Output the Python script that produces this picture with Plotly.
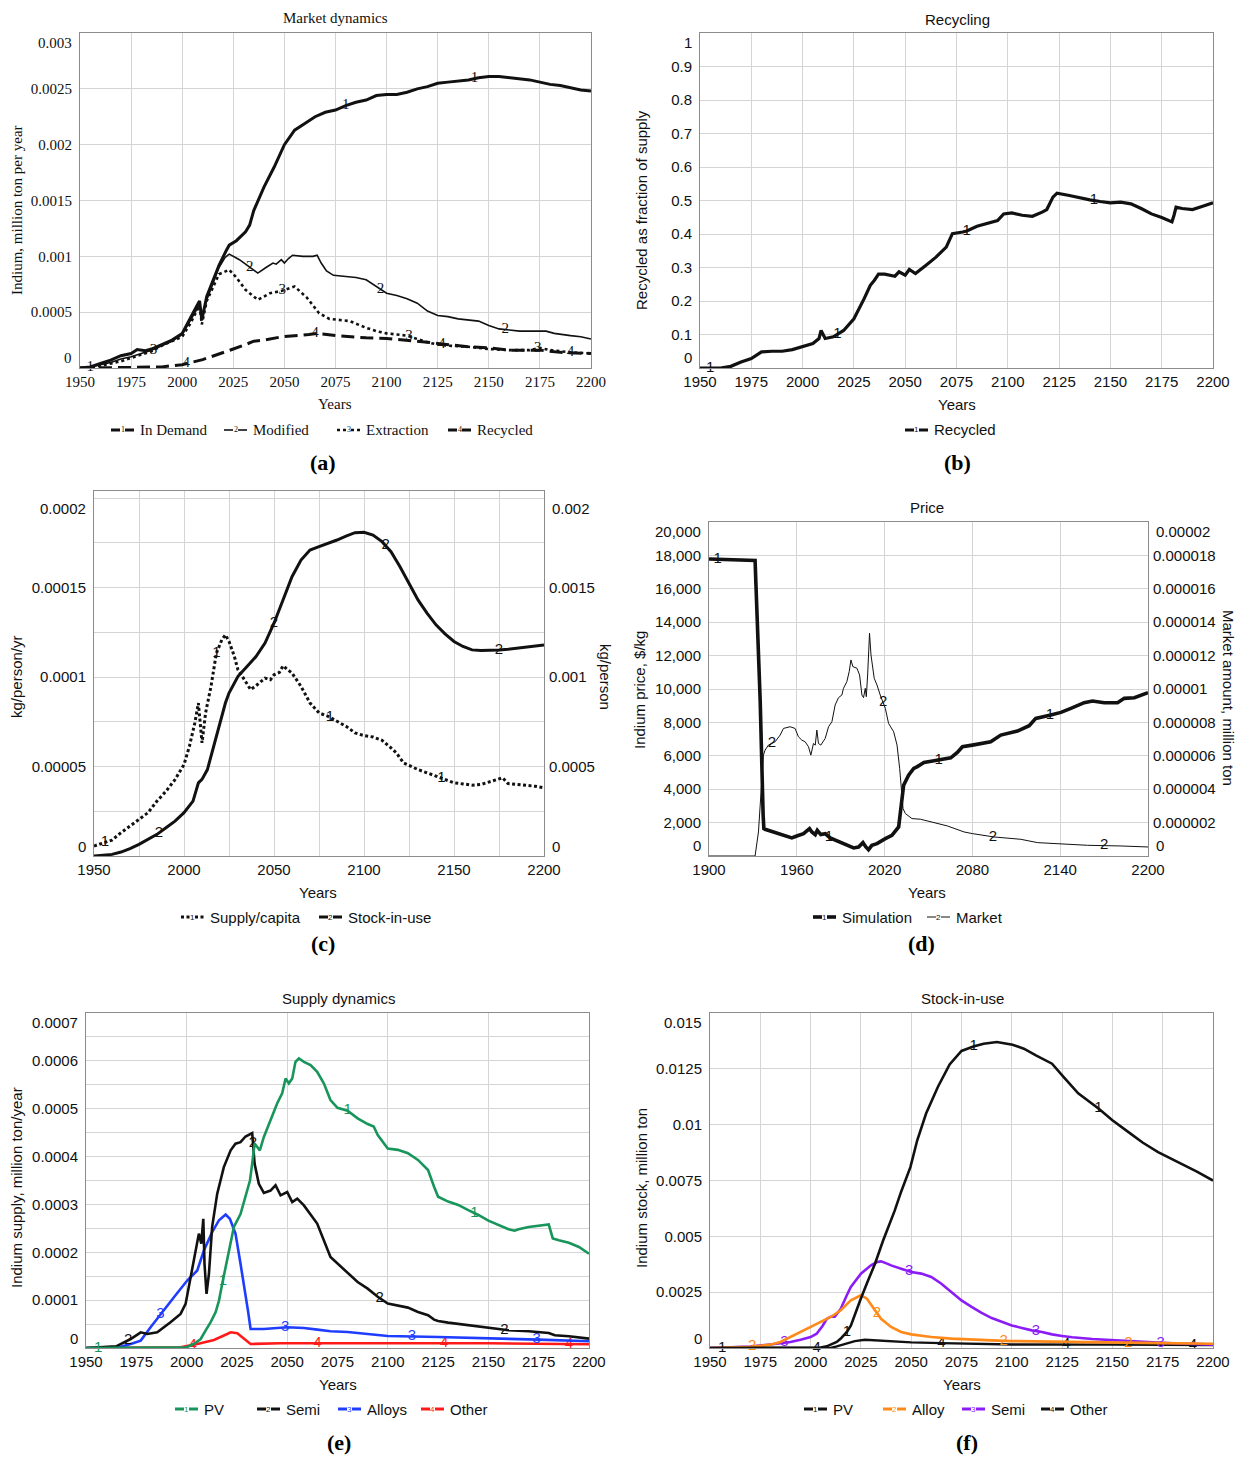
import numpy as np
import plotly.graph_objects as go

# ---------------------------------------------------------------
# (a) Market dynamics, Indium flows (million ton per year)
# ---------------------------------------------------------------
A_DEMAND_YR = [1950, 1955, 1960, 1965, 1970, 1975, 1978, 1982, 1985, 1990,
               1995, 2000, 2004, 2007, 2008.5, 2009.6, 2012, 2015, 2018, 2021.5,
               2023, 2026.5, 2031, 2033, 2035, 2040, 2043, 2045, 2050, 2055,
               2060, 2065, 2070, 2075, 2080, 2085, 2090, 2095, 2100, 2105,
               2110, 2115, 2120, 2125, 2130, 2135, 2140, 2145, 2150, 2155,
               2160, 2165, 2170, 2175, 2180, 2185, 2190, 2195, 2200]
A_DEMAND = [0.0, 0.00001, 0.00004, 0.00007, 0.00011, 0.00013, 0.000165, 0.000155, 0.00017, 0.00021,
            0.00025, 0.00031, 0.00044, 0.00055, 0.0006, 0.00043, 0.00064, 0.00078, 0.00092, 0.00105,
            0.0011, 0.00114, 0.00122, 0.00128, 0.00141, 0.00162, 0.00173, 0.0018, 0.002, 0.00213,
            0.00219, 0.00225, 0.00229, 0.00231, 0.00235, 0.00238, 0.0024, 0.00244, 0.00245, 0.00245,
            0.00247, 0.0025, 0.00252, 0.00255, 0.00256, 0.00257, 0.00258, 0.0026, 0.00261, 0.00261,
            0.0026, 0.00259, 0.00258, 0.00256, 0.00254, 0.00253, 0.00251, 0.00249, 0.00248]

A_MODIFIED_YR = [1950, 1955, 1960, 1965, 1970, 1975, 1980, 1985, 1990, 1995,
                 2000, 2004, 2007, 2008.5, 2009.6, 2012, 2015, 2018, 2021, 2023,
                 2028, 2033, 2037, 2041, 2044.4, 2046, 2048.5, 2050, 2052, 2054,
                 2059, 2064, 2066, 2068, 2070.6, 2074, 2080, 2085, 2090, 2095,
                 2100, 2105, 2110, 2115, 2120, 2125, 2130, 2135, 2140, 2145,
                 2150, 2155, 2160, 2165, 2170, 2178, 2182, 2185, 2190, 2195,
                 2200]
A_MODIFIED = [0.0, 0.00001, 0.00003, 0.00005, 0.00008, 0.0001, 0.00013, 0.00016, 0.0002, 0.00024,
              0.0003, 0.00042, 0.00052, 0.00057, 0.00045, 0.00061, 0.00075, 0.0009, 0.00099, 0.00102,
              0.00097, 0.0009, 0.00085, 0.0009, 0.00094, 0.00093, 0.00097, 0.00094, 0.00098, 0.00101,
              0.001, 0.001, 0.00101, 0.00094, 0.00087, 0.00083, 0.00082, 0.00081, 0.00079, 0.00073,
              0.00067, 0.00065, 0.00062, 0.00058, 0.00051, 0.00047, 0.00046, 0.00044, 0.00043, 0.00042,
              0.00038, 0.00035, 0.00034, 0.00033, 0.00033, 0.00033, 0.00031, 0.0003, 0.00029, 0.00028,
              0.00026]

A_EXTRACTION_YR = [1950, 1955, 1960, 1965, 1970, 1975, 1980, 1985, 1990, 1995,
                   2000, 2004, 2007, 2008.5, 2009.6, 2012, 2015, 2018, 2023, 2026.5,
                   2031, 2037, 2043, 2048.5, 2055, 2061, 2067, 2072, 2082, 2090,
                   2095, 2100, 2105, 2110, 2115, 2120, 2125, 2130, 2140, 2150,
                   2160, 2170, 2175, 2180, 2190, 2200]
A_EXTRACTION = [0.0, 0.000005, 0.00002, 0.00004, 0.00006, 0.00009, 0.00012, 0.00015, 0.0002, 0.00024,
                0.00028, 0.0004, 0.0005, 0.00056, 0.00039, 0.0006, 0.00072, 0.00084, 0.00088, 0.00081,
                0.0007, 0.00061, 0.00067, 0.00069, 0.00073, 0.00063, 0.00049, 0.00044, 0.00042, 0.00036,
                0.00033, 0.00031, 0.0003, 0.00029, 0.00026, 0.00023, 0.00021, 0.0002, 0.00019, 0.00017,
                0.00016, 0.00016, 0.00018, 0.00016, 0.00014, 0.00013]

A_RECYCLED_YR = [1950, 1960, 1975, 1990, 2000, 2010, 2020, 2025, 2031, 2035,
                 2040, 2049, 2062, 2066, 2075, 2090, 2100, 2110, 2120, 2125,
                 2140, 2150, 2160, 2175, 2185, 2200]
A_RECYCLED = [0.0, 0.0, 0.000005, 0.00001, 0.00003, 0.000075, 0.000135, 0.00017, 0.00021, 0.00024,
              0.00025, 0.00028, 0.0003, 0.00031, 0.00029, 0.00027, 0.000265, 0.00025, 0.00023, 0.00022,
              0.00019, 0.00018, 0.00016, 0.00016, 0.00014, 0.00013]

# ---------------------------------------------------------------
# (b) Recycled as fraction of supply
# ---------------------------------------------------------------
B_RECYCLED_YR = [1950, 1960, 1965, 1970, 1975, 1978, 1980, 1985, 1990, 1995,
                 2000, 2005, 2008, 2009, 2011, 2015, 2020, 2025, 2030, 2033,
                 2035, 2037, 2040, 2045, 2047, 2050, 2052, 2055, 2060, 2065,
                 2070, 2073, 2078, 2080, 2085, 2090, 2095, 2098, 2102, 2107,
                 2112, 2117, 2119, 2122, 2124, 2130, 2135, 2140, 2145, 2150,
                 2155, 2160, 2165, 2170, 2175, 2180, 2181, 2182, 2185, 2190,
                 2195, 2200]
B_RECYCLED = [0.0, 0.0, 0.005, 0.018, 0.028, 0.04, 0.048, 0.05, 0.05, 0.055,
              0.063, 0.073, 0.088, 0.112, 0.088, 0.093, 0.112, 0.147, 0.207, 0.247,
              0.262, 0.28, 0.28, 0.274, 0.287, 0.277, 0.294, 0.282, 0.306, 0.331,
              0.361, 0.401, 0.406, 0.409, 0.423, 0.431, 0.44, 0.46, 0.463, 0.456,
              0.453, 0.466, 0.473, 0.51, 0.522, 0.515, 0.508, 0.502, 0.497, 0.493,
              0.495, 0.49, 0.476, 0.46, 0.449, 0.436, 0.456, 0.48, 0.476, 0.473,
              0.483, 0.493]

# ---------------------------------------------------------------
# (c) Per-capita supply (kg/person/yr) and stock-in-use (kg/person)
# ---------------------------------------------------------------
C_SUPPLY_YR = [1950, 1955, 1960, 1965, 1970, 1975, 1980, 1985, 1990, 1995,
               2000, 2003, 2006, 2008, 2010, 2012, 2015, 2018, 2021, 2023,
               2025, 2028, 2030, 2033, 2037, 2040, 2045, 2048, 2050, 2053,
               2055, 2060, 2065, 2070, 2075, 2080, 2085, 2090, 2095, 2100,
               2105, 2110, 2115, 2118, 2122, 2125, 2130, 2135, 2140, 2145,
               2150, 2155, 2160, 2165, 2170, 2175, 2177, 2180, 2185, 2190,
               2195, 2200]
C_SUPPLY = [0.0000056, 0.0000074, 0.0000089, 0.000013, 0.0000167, 0.0000204, 0.0000242, 0.0000307, 0.0000362, 0.0000427,
            0.0000511, 0.0000613, 0.0000743, 0.0000855, 0.0000632, 0.00008, 0.0000948, 0.0001134, 0.0001208, 0.0001236,
            0.00012, 0.0001115, 0.000104, 0.0000994, 0.000093, 0.0000952, 0.0000994, 0.0000985, 0.0001013, 0.0001026,
            0.0001063, 0.0001022, 0.0000948, 0.0000855, 0.00008, 0.0000781, 0.0000753, 0.0000725, 0.0000688, 0.0000673,
            0.0000665, 0.0000647, 0.0000604, 0.0000576, 0.000052, 0.0000506, 0.0000483, 0.0000465, 0.0000446, 0.0000424,
            0.0000409, 0.0000403, 0.0000396, 0.00004, 0.0000414, 0.0000428, 0.0000437, 0.0000405, 0.00004, 0.0000396,
            0.000039, 0.0000381]

C_STOCK_YR = [1950, 1955, 1960, 1965, 1970, 1975, 1980, 1985, 1990, 1995,
              2000, 2005, 2008, 2010, 2013, 2015, 2018, 2020, 2023, 2025,
              2028, 2030, 2035, 2040, 2045, 2050, 2055, 2060, 2065, 2070,
              2075, 2080, 2085, 2090, 2095, 2100, 2105, 2110, 2115, 2120,
              2125, 2130, 2135, 2140, 2145, 2150, 2155, 2160, 2165, 2170,
              2175, 2180, 2185, 2190, 2195, 2200]
C_STOCK = [0.0, 0.000004, 0.000009, 0.000022, 0.000041, 0.000065, 0.000093, 0.000121, 0.000158, 0.000195,
           0.000242, 0.000307, 0.000409, 0.000428, 0.000483, 0.000558, 0.000669, 0.000753, 0.000855, 0.000911,
           0.00097, 0.001004, 0.001059, 0.001115, 0.00119, 0.001301, 0.001431, 0.001561, 0.001654, 0.00171,
           0.001729, 0.001747, 0.001766, 0.001788, 0.001807, 0.001809, 0.001794, 0.001757, 0.001701, 0.001617,
           0.001524, 0.001431, 0.001357, 0.001292, 0.001242, 0.001199, 0.001171, 0.001152, 0.001149, 0.001149,
           0.001152, 0.001156, 0.001162, 0.001165, 0.001171, 0.00118]

# ---------------------------------------------------------------
# (d) Price: simulated price ($/kg) and market amount (1e-6 million ton)
# ---------------------------------------------------------------
D_SIM_YR = [1900, 1920, 1930, 1931.5, 1932, 1935, 1937, 1937.5, 1938.3, 1944,
            1949.7, 1956.6, 1960, 1964.6, 1968.7, 1970.3, 1972.6, 1974, 1976.4, 1979.4,
            1982.8, 1989.7, 1994.2, 1998.8, 2002.2, 2005.2, 2007.2, 2009, 2011.3, 2014.8,
            2020.5, 2025, 2029.6, 2031.9, 2033, 2036.4, 2039.9, 2042.1, 2044.4, 2046.9,
            2053.8, 2065.2, 2069.7, 2073.2, 2080, 2092.5, 2099.4, 2110.8, 2118.8, 2123.3,
            2133.6, 2140.5, 2147.3, 2156.4, 2162.1, 2170.1, 2179.2, 2183.8, 2190.7, 2195.2,
            2200]
D_SIM = [17780, 17760, 17740, 17700, 16440, 9240, 2440, 1640, 1600, 1440,
         1240, 1080, 1200, 1340, 1640, 1440, 1280, 1540, 1280, 1340,
         1080, 800, 640, 480, 540, 800, 540, 380, 640, 740,
         1040, 1240, 1740, 3240, 4240, 4840, 5240, 5340, 5480, 5600,
         5700, 5880, 6200, 6540, 6640, 6840, 7240, 7480, 7800, 8240,
         8440, 8600, 8840, 9180, 9280, 9180, 9180, 9440, 9480, 9640,
         9780]

D_MARKET_YR = [1900, 1931.5, 1933.8, 1935.4, 1937.2, 1938.3, 1940.6, 1945.2, 1948.6, 1950.9,
               1955.4, 1958.8, 1961.1, 1963.4, 1965.7, 1968, 1969.6, 1971.4, 1972.6, 1973.7,
               1974.8, 1976.4, 1979.4, 1981.7, 1984, 1986.2, 1988.5, 1990.8, 1991.9, 1994.2,
               1995.8, 1997, 1998.3, 2001.1, 2002.9, 2004.5, 2005.6, 2006.8, 2007.5, 2008.4,
               2009.7, 2010.7, 2012, 2012.9, 2014.8, 2017, 2020.5, 2022.7, 2026.2, 2028.5,
               2030.3, 2031.4, 2032.6, 2034.2, 2038.7, 2044.6, 2053.8, 2062.9, 2074.3, 2080,
               2094.8, 2113.1, 2124.5, 2140, 2158.7, 2181.5, 2200]
D_MARKET_E6 = [0, 0, 1.44, 3.44, 6.04, 6.34, 6.64, 6.84, 7.24, 7.64,
               7.74, 7.64, 7.14, 6.94, 6.84, 6.54, 6.04, 6.74, 6.64, 7.54,
               6.74, 6.64, 7.04, 7.74, 8.04, 9.04, 9.48, 9.64, 10.04, 10.44,
               11.04, 11.74, 11.34, 11.24, 10.84, 9.64, 9.48, 10.04, 9.54, 10.84,
               13.34, 12.04, 11.14, 10.64, 10.24, 9.64, 8.84, 7.94, 7.44, 6.64,
               5.24, 4.04, 2.84, 2.54, 2.24, 2.2, 2.0, 1.8, 1.44, 1.34,
               1.14, 1.0, 0.8, 0.72, 0.64, 0.6, 0.54]

# ---------------------------------------------------------------
# (e) Supply dynamics by application (million ton/year)
# ---------------------------------------------------------------
E_PV_YR = [1950, 1995, 2000, 2003.6, 2007, 2009.4, 2011.9, 2014.4, 2016.1, 2017.7,
           2019.4, 2021.9, 2023.5, 2026.8, 2029.3, 2031.5, 2032.6, 2033.8, 2035.1, 2036.4,
           2038.4, 2041.7, 2045, 2047.5, 2049.2, 2050.8, 2052.5, 2054.1, 2055.8, 2058.3,
           2061.6, 2064.9, 2068.2, 2071.5, 2075, 2080, 2085, 2090, 2093, 2095,
           2098, 2100, 2105, 2110, 2115, 2120, 2123, 2125, 2130, 2135,
           2140, 2145, 2150, 2155, 2160, 2163, 2165, 2170, 2175, 2180,
           2182, 2185, 2190, 2195, 2200]
E_PV = [0.0, 0.0, 0.0000015, 0.0000084, 0.0000188, 0.0000363, 0.0000537, 0.0000747, 0.0000991, 0.000134,
        0.000169, 0.000225, 0.000253, 0.00028, 0.000319, 0.00035, 0.000385, 0.000427, 0.00042, 0.000413,
        0.000441, 0.000476, 0.000511, 0.000532, 0.000563, 0.000553, 0.000563, 0.000598, 0.000605, 0.000598,
        0.000591, 0.000577, 0.000553, 0.000518, 0.000502, 0.000496, 0.00048, 0.000468, 0.000463, 0.000445,
        0.000428, 0.000417, 0.000414, 0.000407, 0.000393, 0.000372, 0.000337, 0.000316, 0.000306, 0.000299,
        0.000288, 0.000278, 0.000266, 0.000257, 0.000248, 0.000245, 0.000248, 0.000253, 0.000255, 0.000258,
        0.000229, 0.000225, 0.00022, 0.000211, 0.000197]

E_SEMI_YR = [1950, 1965, 1972.2, 1977.2, 1980.5, 1985.4, 1992, 1997, 1999.5, 2002,
             2004.5, 2006.1, 2007.3, 2008.3, 2008.9, 2009.9, 2011.1, 2012.7, 2015.2, 2018.5,
             2021.9, 2024.3, 2026.8, 2029.3, 2032.6, 2033.8, 2035.9, 2038.4, 2041.7, 2044.2,
             2046.7, 2050, 2052.5, 2055, 2058.3, 2064.9, 2071.5, 2075, 2080, 2085,
             2090, 2095, 2100, 2105, 2110, 2115, 2120, 2123, 2125, 2130,
             2140, 2150, 2160, 2170, 2180, 2183, 2190, 2200]
E_SEMI = [0.0, 0.0000035, 0.0000188, 0.0000328, 0.0000293, 0.0000328, 0.0000537, 0.0000712, 0.0000921, 0.000148,
          0.000204, 0.000239, 0.000218, 0.00027, 0.000176, 0.000113, 0.000155, 0.000253, 0.000322, 0.000378,
          0.000413, 0.000427, 0.00043, 0.000442, 0.000449, 0.000385, 0.000343, 0.000324, 0.000329, 0.00034,
          0.000319, 0.000326, 0.000305, 0.000312, 0.000298, 0.00026, 0.00019, 0.000177, 0.000157, 0.000138,
          0.000124, 0.000107, 0.0000928, 0.0000893, 0.0000844, 0.0000754, 0.0000684, 0.0000593, 0.0000565, 0.000053,
          0.0000475, 0.0000419, 0.000037, 0.0000349, 0.0000314, 0.0000265, 0.0000244, 0.0000195]

E_ALLOYS_YR = [1950, 1965, 1972.2, 1977.2, 1982.1, 1987.1, 1993.7, 2000.3, 2005.3, 2008.6,
               2012.7, 2016.1, 2019.4, 2021.5, 2024.3, 2026.8, 2029.3, 2030.5, 2031.8, 2038.4,
               2050, 2058.3, 2065, 2071.5, 2080, 2090, 2100, 2125, 2150, 2175,
               2200]
E_ALLOYS = [0.0, 0.0, 0.0000084, 0.0000154, 0.0000433, 0.0000712, 0.000106, 0.000141, 0.000162, 0.000204,
            0.000242, 0.000267, 0.000279, 0.00027, 0.000239, 0.000176, 0.000113, 0.0000782, 0.0000398, 0.0000398,
            0.0000433, 0.0000419, 0.0000384, 0.0000349, 0.0000335, 0.0000286, 0.0000251, 0.000023, 0.0000209, 0.0000174,
            0.000014]

E_OTHER_YR = [1950, 1990, 1997, 2005.3, 2013.6, 2020.2, 2021.9, 2025.2, 2028.5, 2031.8,
              2046.7, 2071.5, 2100, 2150, 2200]
E_OTHER = [0.0, 0.0, 0.0000014, 0.0000084, 0.0000167, 0.0000293, 0.0000328, 0.0000307, 0.0000188, 0.0000084,
           0.0000098, 0.0000105, 0.0000098, 0.0000098, 0.0000077]

# ---------------------------------------------------------------
# (f) Stock-in-use by application (million ton)
# ---------------------------------------------------------------
F_PV_YR = [1950, 2005, 2008, 2010, 2013, 2015, 2018, 2020, 2022, 2024.6,
           2028, 2032, 2036, 2041.8, 2045, 2049.6, 2053, 2057.4, 2063.3, 2069.1,
           2075, 2080.9, 2086, 2092.6, 2100.4, 2106, 2112, 2120, 2125.8, 2133,
           2143.4, 2150, 2159, 2165, 2172.7, 2184.4, 2192, 2200]
F_PV = [0.0, 0.00002, 0.000075, 0.00015, 0.00027, 0.00042, 0.00072, 0.001, 0.0015, 0.00213,
        0.0029, 0.00377, 0.0048, 0.00615, 0.007, 0.0081, 0.0093, 0.0105, 0.0117, 0.0127,
        0.0133, 0.0135, 0.01362, 0.0137, 0.01358, 0.0134, 0.0131, 0.01273, 0.01213, 0.0114,
        0.0107, 0.0102, 0.0096, 0.0092, 0.00877, 0.00825, 0.0079, 0.0075]

F_ALLOY_YR = [1950, 1970, 1975, 1980, 1985, 1990, 1995, 2000, 2005, 2010,
              2015, 2020, 2025, 2028, 2032, 2035, 2040, 2045, 2050, 2055,
              2060, 2070, 2080, 2090, 2100, 2125, 2150, 2175, 2200]
F_ALLOY = [0.0, 0.00005, 0.0001, 0.00015, 0.00027, 0.00049, 0.00072, 0.00094, 0.00116, 0.00139,
           0.00169, 0.00213, 0.00236, 0.00221, 0.00169, 0.00131, 0.00094, 0.00072, 0.00061, 0.00054,
           0.00049, 0.00042, 0.00037, 0.00034, 0.00031, 0.00027, 0.00024, 0.00022, 0.00019]

F_SEMI_YR = [1950, 1970, 1980, 1985, 1990, 1995, 2000, 2003, 2006, 2008,
             2010, 2012, 2015, 2018, 2020, 2025, 2030, 2033, 2035, 2038,
             2040, 2045, 2050, 2055, 2060, 2065, 2070, 2075, 2080, 2085,
             2090, 2095, 2100, 2105, 2110, 2115, 2120, 2125, 2130, 2140,
             2150, 2160, 2170, 2180, 2190, 2200]
F_SEMI = [0.0, 0.00007, 0.00016, 0.00022, 0.00027, 0.00037, 0.00049, 0.00064, 0.001, 0.0013,
          0.0014, 0.0014, 0.00176, 0.00236, 0.00273, 0.00333, 0.0037, 0.00385, 0.00388, 0.00378,
          0.0037, 0.00355, 0.0034, 0.00333, 0.00318, 0.00288, 0.00251, 0.00213, 0.00184, 0.00157,
          0.00134, 0.00116, 0.00101, 0.0009, 0.00079, 0.00072, 0.00061, 0.00054, 0.00048, 0.0004,
          0.00034, 0.0003, 0.00025, 0.00021, 0.00018, 0.00015]

F_OTHER_YR = [1950, 2010, 2013, 2018, 2022, 2027, 2032, 2040, 2050, 2065, 2100, 2150, 2200]
F_OTHER = [0.0, 0.0, 0.00007, 0.00022, 0.00031, 0.00037, 0.00034, 0.0003, 0.00025, 0.00022,
           0.00016, 0.00015, 0.00013]

# Tick labels
YEARS_25 = list(range(1950, 2201, 25))
YEARS_50 = list(range(1950, 2201, 50))
YEARS_D = list(range(1900, 2201, 60))
A_YTICKS = [0, 0.0005, 0.001, 0.0015, 0.002, 0.0025, 0.003]
A_YLABELS = ["0", "0.0005", "0.001", "0.0015", "0.002", "0.0025", "0.003"]
B_YTICKS = [i / 10 for i in range(11)]
B_YLABELS = ["0", "0.1", "0.2", "0.3", "0.4", "0.5", "0.6", "0.7", "0.8", "0.9", "1"]
C_LTICKS = [i * 0.000025 for i in range(9)]
C_LLABELS = ["0", "", "0.00005", "", "0.0001", "", "0.00015", "", "0.0002"]
C_RTICKS = [0, 0.0005, 0.001, 0.0015, 0.002]
C_RLABELS = ["0", "0.0005", "0.001", "0.0015", "0.002"]
D_LTICKS = list(range(0, 20001, 2000))
D_LLABELS = ["0", "2,000", "4,000", "6,000", "8,000", "10,000", "12,000",
             "14,000", "16,000", "18,000", "20,000"]
D_RTICKS = [i * 0.000002 for i in range(11)]
D_RLABELS = ["0", "0.000002", "0.000004", "0.000006", "0.000008", "0.00001",
             "0.000012", "0.000014", "0.000016", "0.000018", "0.00002"]
E_YTICKS = [i * 0.00005 for i in range(15)]
E_YLABELS = ["0", "", "0.0001", "", "0.0002", "", "0.0003", "", "0.0004", "",
             "0.0005", "", "0.0006", "", "0.0007"]
F_YTICKS = [0, 0.0025, 0.005, 0.0075, 0.01, 0.0125, 0.015]
F_YLABELS = ["0", "0.0025", "0.005", "0.0075", "0.01", "0.0125", "0.015"]

# ---------------------------------------------------------------
# layout helpers
# ---------------------------------------------------------------
W, H = 1236, 1457
SERIF = "Liberation Serif, Times New Roman, serif"
SANS = "Liberation Sans, Arial, sans-serif"
GRID = "#d5d5d5"
FRAME = "#8c8c8c"
INK = "#111111"

GREEN = "#17955a"
BLUE = "#1f3dff"
RED = "#ff1a1a"
ORANGE = "#ff8a1a"
PURPLE = "#8b1cf5"

# plot frames in pixels: left, right, top, bottom
FR = {
    "a": (80, 591, 33, 368),
    "b": (700, 1213, 33, 368),
    "c": (94, 544, 491, 856),
    "d": (709, 1148, 522, 856),
    "e": (86, 589, 1013, 1348),
    "f": (710, 1213, 1013, 1348),
}

annotations = []
shapes = []


def px(x):
    return x / W


def py(y):
    return 1 - y / H


def x_axis(fr, vals, texts, rng, family, anchor, grid_vals=None):
    x0, x1, _, _ = fr
    ax = dict(domain=[px(x0), px(x1)], range=rng, anchor=anchor, automargin=False,
              tickmode="array", tickvals=vals, ticktext=texts,
              showgrid=grid_vals is None, gridcolor=GRID, gridwidth=1,
              showline=True, mirror=True, linecolor=FRAME, linewidth=1,
              ticks="", ticklabelstandoff=0, zeroline=False, fixedrange=True,
              tickfont=dict(family=family, size=15, color=INK))
    if grid_vals is not None:
        ax["minor"] = dict(tickmode="array", tickvals=grid_vals, showgrid=True,
                           gridcolor=GRID, gridwidth=1, ticks="")
    return ax


def y_axis(fr, vals, texts, rng, family, xname, yname, right=False, overlay=None):
    """Value axis; the lowest and highest labels sit just inside the frame."""
    _, _, y0, y1 = fr
    inner = [""] + list(texts[1:-1]) + [""]
    ax = dict(domain=[py(y1), py(y0)], range=rng, anchor=xname, automargin=False,
              tickmode="array", tickvals=vals, ticktext=inner,
              ticks="", ticklabelstandoff=4, zeroline=False, fixedrange=True,
              tickfont=dict(family=family, size=15, color=INK))
    if right:
        ax.update(side="right", overlaying=overlay, showgrid=False, showline=False)
    else:
        ax.update(showgrid=True, gridcolor=GRID, gridwidth=1, showline=True,
                  mirror=True, linecolor=FRAME, linewidth=1)
    for v, s, shift in [(vals[0], texts[0], 10), (vals[-1], texts[-1], -10)]:
        annotations.append(dict(text=s, xref=xname + " domain", yref=yname,
                                x=1 if right else 0, y=v,
                                xanchor="left" if right else "right", yanchor="middle",
                                xshift=6 if right else -6, yshift=shift, showarrow=False,
                                font=dict(family=family, size=15, color=INK)))
    return ax


fig = go.Figure()


def add_series(xa, ya, yrs, vals, color, width, dash, digit, label_yrs, family):
    fig.add_trace(go.Scatter(x=yrs, y=vals, mode="lines", xaxis=xa, yaxis=ya,
                             line=dict(color=color, width=width, dash=dash),
                             hoverinfo="skip", showlegend=False))
    ly = np.interp(label_yrs, yrs, vals)
    fig.add_trace(go.Scatter(x=label_yrs, y=ly, mode="text", xaxis=xa, yaxis=ya,
                             text=[digit] * len(label_yrs), textposition="middle center",
                             textfont=dict(family=family, size=15, color=color),
                             hoverinfo="skip", showlegend=False, cliponaxis=False))


# (a)
add_series("x", "y", A_RECYCLED_YR, A_RECYCLED, "#111", 3, "13px,6px", "4",
           [2002, 2065, 2127, 2190], SERIF)
add_series("x", "y", A_EXTRACTION_YR, A_EXTRACTION, "#111", 2.6, "dot", "3",
           [1986, 2049, 2111, 2174], SERIF)
add_series("x", "y", A_MODIFIED_YR, A_MODIFIED, "#111", 1.6, "solid", "2",
           [2033, 2097, 2158], SERIF)
add_series("x", "y", A_DEMAND_YR, A_DEMAND, "#111", 3, "solid", "1",
           [1955, 2080, 2143], SERIF)
# (b)
add_series("x2", "y2", B_RECYCLED_YR, B_RECYCLED, "#111", 3.2, "solid", "1",
           [1955, 2017, 2080, 2142], SANS)
# (c)
add_series("x3", "y3", C_SUPPLY_YR, C_SUPPLY, "#111", 3, "3px,2.5px", "1",
           [1956, 2018, 2081, 2143], SANS)
add_series("x3", "y4", C_STOCK_YR, C_STOCK, "#111", 3, "solid", "2",
           [1986, 2050, 2112, 2175], SANS)
# (d)
add_series("x4", "y6", D_MARKET_YR, [v * 1e-6 for v in D_MARKET_E6], "#111", 1, "solid", "2",
           [1943, 2019, 2094, 2170], SANS)
add_series("x4", "y5", D_SIM_YR, D_SIM, "#111", 3.6, "solid", "1",
           [1906, 1982, 2057, 2133], SANS)
# (e)
add_series("x5", "y7", E_OTHER_YR, E_OTHER, RED, 2.6, "solid", "4",
           [2003, 2065, 2128, 2190], SANS)
add_series("x5", "y7", E_ALLOYS_YR, E_ALLOYS, BLUE, 2.6, "solid", "3",
           [1987, 2049, 2112, 2174], SANS)
add_series("x5", "y7", E_SEMI_YR, E_SEMI, "#111", 2.6, "solid", "2",
           [1971, 2033, 2096, 2158], SANS)
add_series("x5", "y7", E_PV_YR, E_PV, GREEN, 2.6, "solid", "1",
           [1956, 2018, 2080, 2143], SANS)
# (f)
add_series("x6", "y8", F_OTHER_YR, F_OTHER, "#111", 2.4, "solid", "4",
           [2003, 2065, 2127, 2190], SANS)
add_series("x6", "y8", F_SEMI_YR, F_SEMI, PURPLE, 2.6, "solid", "3",
           [1987, 2049, 2112, 2174], SANS)
add_series("x6", "y8", F_ALLOY_YR, F_ALLOY, ORANGE, 2.6, "solid", "2",
           [1971, 2033, 2096, 2158], SANS)
add_series("x6", "y8", F_PV_YR, F_PV, "#111", 2.6, "solid", "1",
           [1956, 2018, 2081, 2143], SANS)

yr_a = [str(v) for v in YEARS_25]
yr_c = [str(v) if v % 50 == 0 else "" for v in YEARS_25]

layout = dict(
    xaxis=x_axis(FR["a"], YEARS_25, yr_a, [1950, 2200], SERIF, "y"),
    yaxis=y_axis(FR["a"], A_YTICKS, A_YLABELS, [0, 0.003], SERIF, "x", "y"),
    xaxis2=x_axis(FR["b"], YEARS_25, yr_a, [1950, 2200], SANS, "y2"),
    yaxis2=y_axis(FR["b"], B_YTICKS, B_YLABELS, [0, 1], SANS, "x2", "y2"),
    xaxis3=x_axis(FR["c"], YEARS_25, yr_c, [1950, 2200], SANS, "y3"),
    yaxis3=y_axis(FR["c"], C_LTICKS, C_LLABELS, [0, 0.000204], SANS, "x3", "y3"),
    yaxis4=y_axis(FR["c"], C_RTICKS, C_RLABELS, [0, 0.00204], SANS, "x3", "y4",
                  right=True, overlay="y3"),
    xaxis4=x_axis(FR["d"], YEARS_D, [str(v) for v in YEARS_D], [1900, 2200], SANS, "y5"),
    yaxis5=y_axis(FR["d"], D_LTICKS, D_LLABELS, [0, 20000], SANS, "x4", "y5"),
    yaxis6=y_axis(FR["d"], D_RTICKS, D_RLABELS, [0, 0.00002], SANS, "x4", "y6",
                  right=True, overlay="y5"),
    xaxis5=x_axis(FR["e"], YEARS_25, yr_a, [1950, 2200], SANS, "y7", grid_vals=YEARS_50),
    yaxis7=y_axis(FR["e"], E_YTICKS, E_YLABELS, [0, 0.0007], SANS, "x5", "y7"),
    xaxis6=x_axis(FR["f"], YEARS_25, yr_a, [1950, 2200], SANS, "y8"),
    yaxis8=y_axis(FR["f"], F_YTICKS, F_YLABELS, [0, 0.015], SANS, "x6", "y8"),
)


def text(s, x, y, size=15, family=SANS, angle=0, xanchor="center", color=INK):
    annotations.append(dict(text=s, x=px(x), y=py(y), xref="paper", yref="paper",
                            showarrow=False, xanchor=xanchor, yanchor="middle",
                            textangle=angle, font=dict(family=family, size=size, color=color)))


# titles
text("Market dynamics", 335, 18, family=SERIF)
text("Recycling", 957, 19)
text("Price", 927, 507)
text("Supply dynamics", 338, 998)
text("Stock-in-use", 962, 998)

# axis titles
text("Years", 335, 404, family=SERIF)
text("Years", 957, 404)
text("Years", 318, 892)
text("Years", 927, 892)
text("Years", 338, 1384)
text("Years", 962, 1384)
text("Indium, million ton per year", 17, 210, family=SERIF, angle=-90)
text("Recycled as fraction of supply", 641, 210, angle=-90)
text("kg/person/yr", 16, 677, angle=-90)
text("kg/person", 606, 677, angle=90)
text("Indium price, $/kg", 640, 690, angle=-90)
text("Market amount, million ton", 1229, 698, angle=90)
text("Indium supply, million ton/year", 16, 1188, angle=-90)
text("Indium stock, million ton", 641, 1188, angle=-90)

# panel letters
for s, x, y in [("(a)", 323, 462), ("(b)", 957, 462), ("(c)", 323, 943),
                ("(d)", 921, 943), ("(e)", 339, 1442), ("(f)", 967, 1442)]:
    text("<b>%s</b>" % s, x, y, size=22, family=SERIF, color="#000")


def legend_item(x0, yc, color, width, dash, digit, label, family):
    for a, b in [(x0, x0 + 9), (x0 + 14, x0 + 23)]:
        shapes.append(dict(type="line", xref="paper", yref="paper",
                           x0=px(a), x1=px(b), y0=py(yc), y1=py(yc),
                           line=dict(color=color, width=width, dash=dash)))
    text(digit, x0 + 11.5, yc, size=8, family=family, color=color)
    text(label, x0 + 27, yc, family=family, xanchor="left")


legend_item(111, 430, "#111", 3, "solid", "1", "In Demand", SERIF)
legend_item(224, 430, "#111", 1.6, "solid", "2", "Modified", SERIF)
legend_item(337, 430, "#111", 2.6, "dot", "3", "Extraction", SERIF)
legend_item(448, 430, "#111", 3, "solid", "4", "Recycled", SERIF)
legend_item(905, 430, "#111", 3, "solid", "1", "Recycled", SANS)
legend_item(181, 917, "#111", 3, "3px,2.5px", "1", "Supply/capita", SANS)
legend_item(319, 917, "#111", 3, "solid", "2", "Stock-in-use", SANS)
legend_item(813, 917, "#111", 3.6, "solid", "1", "Simulation", SANS)
legend_item(927, 917, "#111", 1, "solid", "2", "Market", SANS)
legend_item(175, 1409, GREEN, 3, "solid", "1", "PV", SANS)
legend_item(257, 1409, "#111", 3, "solid", "2", "Semi", SANS)
legend_item(338, 1409, BLUE, 3, "solid", "3", "Alloys", SANS)
legend_item(421, 1409, RED, 3, "solid", "4", "Other", SANS)
legend_item(804, 1409, "#111", 3, "solid", "1", "PV", SANS)
legend_item(883, 1409, ORANGE, 3, "solid", "2", "Alloy", SANS)
legend_item(962, 1409, PURPLE, 3, "solid", "3", "Semi", SANS)
legend_item(1041, 1409, "#111", 3, "solid", "4", "Other", SANS)

fig.update_layout(
    **layout,
    width=W, height=H,
    margin=dict(l=0, r=0, t=0, b=0, autoexpand=False),
    paper_bgcolor="white", plot_bgcolor="white",
    showlegend=False,
    annotations=annotations,
    shapes=shapes,
    font=dict(family=SANS, color=INK),
)

fig.write_html("out.html", include_plotlyjs=True, config={"displayModeBar": False})
